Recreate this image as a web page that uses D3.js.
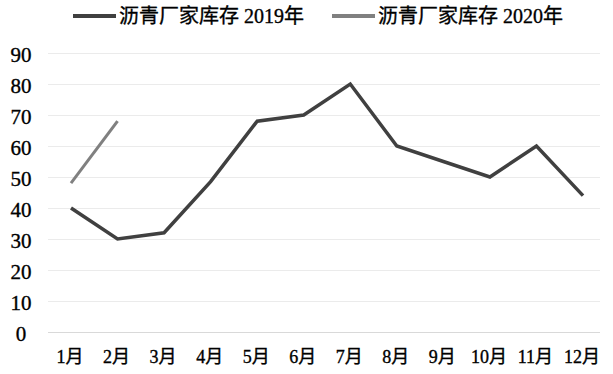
<!DOCTYPE html>
<html>
<head>
<meta charset="utf-8">
<script src="https://cdn.jsdelivr.net/npm/d3@7"></script>
<style>
  body { margin: 0; background: #fff; }
  text { font-family: "Liberation Serif", "Noto Sans CJK SC", serif; fill: #000; stroke: #000; stroke-width: 0.35px; }
</style>
</head>
<body>
<div id="chart"></div>
<script>
// data
const months = ["1月", "2月", "3月", "4月", "5月", "6月", "7月", "8月", "9月", "10月", "11月", "12月"];
const stock2019 = [40, 30, 32, 48.5, 68, 70, 80, 60, 55, 50, 60, 44];
const stock2020 = [48, 68];
const yTicks = [0, 10, 20, 30, 40, 50, 60, 70, 80, 90];
const seriesNames = ["沥青厂家库存 2019年", "沥青厂家库存 2020年"];
const seriesColors = ["#404040", "#808080"];

const width = 613, height = 374;
const margin = { top: 53, right: 13, bottom: 42, left: 48 };

const svg = d3.select("#chart").append("svg")
    .attr("width", width)
    .attr("height", height);

// x: points sit in the middle of 12 bands
const x = d3.scalePoint()
    .domain(months)
    .range([71, 583]);

const y = d3.scaleLinear()
    .domain([0, 90])
    .range([332, 53]);

// gridlines
svg.append("g").selectAll("line")
    .data(yTicks)
    .enter().append("line")
    .attr("x1", margin.left)
    .attr("x2", width - margin.right)
    .attr("y1", d => y(d) + 0.5)
    .attr("y2", d => y(d) + 0.5)
    .attr("stroke", d => d === 0 ? "#d9d9d9" : "#ebebeb")
    .attr("stroke-width", 1);

// y tick labels
svg.append("g").selectAll("text")
    .data(yTicks)
    .enter().append("text")
    .attr("x", 21)
    .attr("y", d => y(d) + 2)
    .attr("dy", "0.35em")
    .attr("text-anchor", "middle")
    .style("font-size", "21px")
    .text(d => d);

// x labels
svg.append("g").selectAll("text")
    .data(months)
    .enter().append("text")
    .attr("x", d => x(d) - 1)
    .attr("y", 357)
    .attr("dy", "0.35em")
    .attr("text-anchor", "middle")
    .style("font-size", "18px")
    .text(d => d);

const line = d3.line()
    .x((d, i) => x(months[i]))
    .y(d => y(d));

svg.append("path")
    .datum(stock2019)
    .attr("fill", "none")
    .attr("stroke", seriesColors[0])
    .attr("stroke-width", 3.5)
    .attr("stroke-linejoin", "miter")
    .attr("d", line);

svg.append("path")
    .datum(stock2020)
    .attr("fill", "none")
    .attr("stroke", seriesColors[1])
    .attr("stroke-width", 3)
    .attr("d", line);

// legend
const legendX = [73, 332];
const legend = svg.append("g").selectAll("g")
    .data(seriesNames)
    .enter().append("g")
    .attr("transform", (d, i) => "translate(" + legendX[i] + ",16)");

legend.append("line")
    .attr("x1", 0)
    .attr("x2", 43)
    .attr("stroke", (d, i) => seriesColors[i])
    .attr("stroke-width", 4);

legend.append("text")
    .attr("x", 46)
    .attr("dy", "0.35em")
    .style("font-size", "20px")
    .text(d => d);
</script>
</body>
</html>
